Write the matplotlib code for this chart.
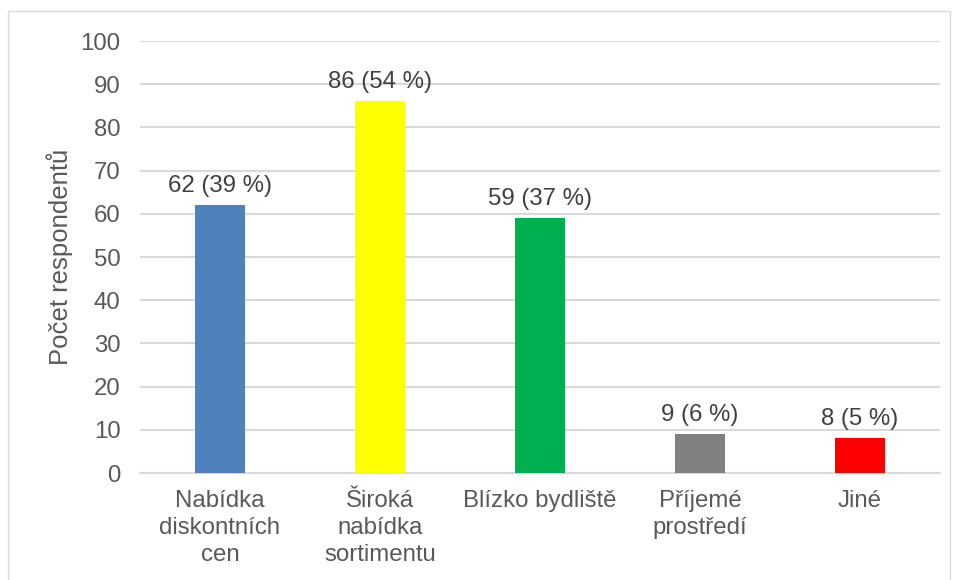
import matplotlib.pyplot as plt
from matplotlib.patches import Rectangle

plt.rcParams['font.family'] = ['Liberation Sans', 'DejaVu Sans']

# Data
kategorie = ['Nabídka\ndiskontních\ncen', 'Široká\nnabídka\nsortimentu',
             'Blízko bydliště', 'Příjemé\nprostředí', 'Jiné']
pocty = [62, 86, 59, 9, 8]
procenta = [39, 54, 37, 6, 5]
barvy = ['#4f81bd', '#ffff00', '#00b050', '#808080', '#ff0000']

text_color = '#595959'
grid_color = '#d9d9d9'
fs = 17.3

fig = plt.figure(figsize=(9.54, 5.8), dpi=100)
ax = fig.add_axes([140 / 954, 1 - 473 / 580, 800 / 954, 432 / 580])

x = range(len(kategorie))
bars = ax.bar(x, pocty, width=0.3125, color=barvy, zorder=3)

for rect, n, p in zip(bars, pocty, procenta):
    ax.annotate(f'{n} ({p} %)', (rect.get_x() + rect.get_width() / 2, rect.get_height()),
                xytext=(0, 6), textcoords='offset points',
                ha='center', va='bottom', fontsize=fs, color='#404040')

ax.set_xlim(-0.5, len(kategorie) - 0.5)
ax.set_ylim(0, 100)
ax.set_yticks(range(0, 101, 10))
ax.set_xticks(list(x))
ax.set_xticklabels(kategorie, fontsize=fs, color=text_color, linespacing=1.3)
ax.tick_params(axis='y', length=0, pad=14, labelsize=fs, labelcolor=text_color)
ax.tick_params(axis='x', length=0, pad=12)

ax.grid(axis='y', color=grid_color, linewidth=1.5, zorder=0)
for s in ['top', 'right', 'left']:
    ax.spines[s].set_visible(False)
ax.spines['bottom'].set_color(grid_color)
ax.spines['bottom'].set_linewidth(1.5)

ax.set_ylabel('Počet respondentů', fontsize=18.5, color=text_color)
ax.yaxis.set_label_coords(-0.084, 0.5)

# rámeček kolem grafu
fig.patches.append(Rectangle((8 / 954, -0.01), 942 / 954, 1 - 11 / 580 + 0.01,
                             transform=fig.transFigure, fill=False,
                             edgecolor='#d9d9d9', linewidth=1))

fig.savefig('out.png', dpi=100)
